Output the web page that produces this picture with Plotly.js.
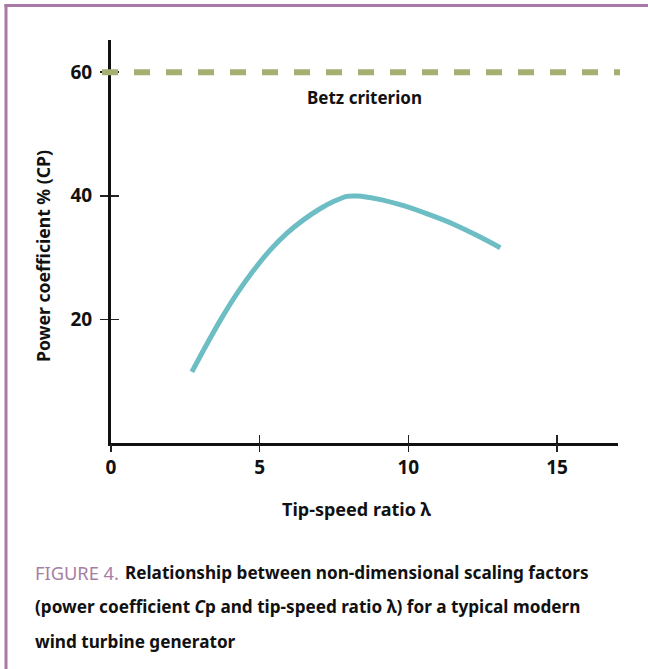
<!DOCTYPE html>
<html>
<head>
<meta charset="utf-8">
<script src="https://cdn.plot.ly/plotly-3.0.1.min.js"></script>
<style>
  html, body { margin: 0; padding: 0; background: #ffffff; }
  #chart { width: 648px; height: 669px; }
</style>
</head>
<body>
<div id="chart"></div>
<script>
// ---- data ----
const tipSpeedRatio = [2.72, 3.11, 3.67, 4.24, 4.79, 5.35, 5.91, 6.47, 7.03, 7.5, 7.93, 8.27, 8.94, 9.84, 10.73, 11.52, 12.3, 13.09];
const powerCoeff    = [11.5, 15.0, 19.8, 24.2, 27.9, 31.2, 33.9, 36.1, 37.9, 39.1, 39.9, 39.95, 39.5, 38.4, 36.9, 35.4, 33.6, 31.6];
const betzLimit = 60;
const betzLabel = "Betz criterion";
const xTickVals = [0, 5, 10, 15];
const yTickVals = [20, 40, 60];
const xTitle = "Tip-speed ratio \u03bb";
const yTitle = "Power coefficient % (CP)";
const figureLabel = "FIGURE 4.";
const captionLines = [
  "Relationship between non-dimensional scaling factors",
  "(power coefficient <i>C</i>p and tip-speed ratio \u03bb) for a typical modern",
  "wind turbine generator"
];

const FONT = '"Noto Sans", "Liberation Sans", sans-serif';
const xRange = [0, 17.05];
const yRange = [0, 65.2];

// ---- text fitting helpers (match the reference's condensed type widths) ----
function measure(text, size, stretch, weight) {
  const s = document.createElement('span');
  s.style.cssText = 'position:absolute;visibility:hidden;white-space:pre;font-family:' + FONT +
    ';font-size:' + size + 'px;font-weight:' + weight + ';font-stretch:' + stretch;
  s.textContent = text.replace(/<[^>]+>/g, '');
  document.body.appendChild(s);
  const w = s.getBoundingClientRect().width;
  s.remove();
  return w;
}
const sample = 'Relationship between scaling factors';
const STRETCH = measure(sample, 100, 'extra-condensed', 'bold') < 0.95 * measure(sample, 100, 'condensed', 'bold')
  ? 'extra-condensed' : 'condensed';
function fit(text, target, weight, maxSize) {
  const s = 100 * target / measure(text, 100, STRETCH, weight);
  return Math.min(s, maxSize || 22);
}

const traces = [
  {
    x: tipSpeedRatio, y: powerCoeff, type: 'scatter', mode: 'lines',
    line: { color: '#6dbdc4', width: 5, shape: 'spline', smoothing: 0.8 },
    hoverinfo: 'skip', showlegend: false
  },
  {
    x: [xRange[0]], y: [yRange[0]], xaxis: 'x2', yaxis: 'y2', type: 'scatter', mode: 'markers',
    marker: { opacity: 0 }, hoverinfo: 'skip', showlegend: false
  }
];

const mL = 111, mR = 30, mT = 40, mB = 226, W = 648, H = 669;
const pw = W - mL - mR, ph = H - mT - mB;
const px2paperX = p => (p - mL) / pw;
const px2paperY = p => (H - mB - p) / ph;
const captionY = [572, 606, 641];

const mkFont = (size, weight, color) => ({ family: FONT, size: size, color: color || '#111111', weight: weight, stretch: STRETCH });

const captionSize = fit(captionLines[0], 464, 'bold');
const annotations = [
  {
    text: betzLabel, xref: 'paper', yref: 'y', x: 0.5, y: 55.9,
    showarrow: false, xanchor: 'center', yanchor: 'middle', font: mkFont(fit(betzLabel, 115, 'bold'), 'bold')
  },
  {
    text: xTitle, xref: 'paper', yref: 'paper', x: px2paperX(357), y: px2paperY(509),
    showarrow: false, xanchor: 'center', yanchor: 'middle', font: mkFont(fit(xTitle, 149, 'bold'), 'bold')
  },
  {
    text: yTitle, xref: 'paper', yref: 'paper', x: px2paperX(43), y: px2paperY(256), textangle: -90,
    showarrow: false, xanchor: 'center', yanchor: 'middle', font: mkFont(fit(yTitle, 212, 'bold'), 'bold')
  },
  {
    text: figureLabel, xref: 'paper', yref: 'paper', x: px2paperX(33), y: px2paperY(captionY[0]),
    showarrow: false, xanchor: 'left', yanchor: 'middle',
    font: mkFont(fit(figureLabel, 84, 'normal'), 'normal', '#a57fa6')
  }
].concat(captionLines.map((t, i) => ({
  text: t, xref: 'paper', yref: 'paper', x: px2paperX(i === 0 ? 123 : 33), y: px2paperY(captionY[i]),
  showarrow: false, xanchor: 'left', yanchor: 'middle', align: 'left', font: mkFont(captionSize, 'bold')
})));

const shapes = [
  {
    type: 'line', xref: 'paper', yref: 'y', x0: px2paperX(102), x1: px2paperX(620), y0: betzLimit, y1: betzLimit,
    line: { color: '#a3b070', width: 6, dash: '16px,16px' }, layer: 'above'
  },
  {
    type: 'line', xref: 'paper', yref: 'paper', x0: px2paperX(4.5), x1: px2paperX(650), y0: px2paperY(5.5), y1: px2paperY(5.5),
    line: { color: '#a878a6', width: 3 }
  },
  {
    type: 'line', xref: 'paper', yref: 'paper', x0: px2paperX(6), x1: px2paperX(6), y0: px2paperY(4), y1: px2paperY(672),
    line: { color: '#a878a6', width: 3 }
  }
];

const tickFont = mkFont(19, 'bold');

const layout = {
  width: W, height: H,
  margin: { l: mL, r: mR, t: mT, b: mB, pad: 0 },
  paper_bgcolor: '#ffffff', plot_bgcolor: '#ffffff',
  showlegend: false,
  xaxis: {
    range: xRange, tickvals: xTickVals, ticktext: xTickVals.map(String),
    showgrid: false, zeroline: false, showline: true, linecolor: '#111111', linewidth: 3,
    ticks: 'inside', ticklen: 8, tickwidth: 1.5, tickcolor: '#222222',
    tickfont: tickFont, ticklabelstandoff: 5,
    fixedrange: true
  },
  yaxis: {
    range: yRange, tickvals: yTickVals, ticktext: yTickVals.map(String),
    showgrid: false, zeroline: false, showline: true, linecolor: '#111111', linewidth: 3,
    ticks: 'outside', ticklen: 8, tickwidth: 1.5, tickcolor: '#222222',
    tickfont: tickFont, ticklabelstandoff: 4,
    fixedrange: true
  },
  xaxis2: {
    overlaying: 'x', range: xRange, tickvals: xTickVals, showticklabels: false,
    showgrid: false, zeroline: false, showline: false,
    ticks: 'outside', ticklen: 8, tickwidth: 1.5, tickcolor: '#222222', fixedrange: true
  },
  yaxis2: {
    overlaying: 'y', range: yRange, tickvals: yTickVals, showticklabels: false,
    showgrid: false, zeroline: false, showline: false,
    ticks: 'inside', ticklen: 8, tickwidth: 1.5, tickcolor: '#222222', fixedrange: true
  },
  annotations: annotations,
  shapes: shapes
};

Plotly.newPlot('chart', traces, layout, { displayModeBar: false, staticPlot: true });
</script>
</body>
</html>
